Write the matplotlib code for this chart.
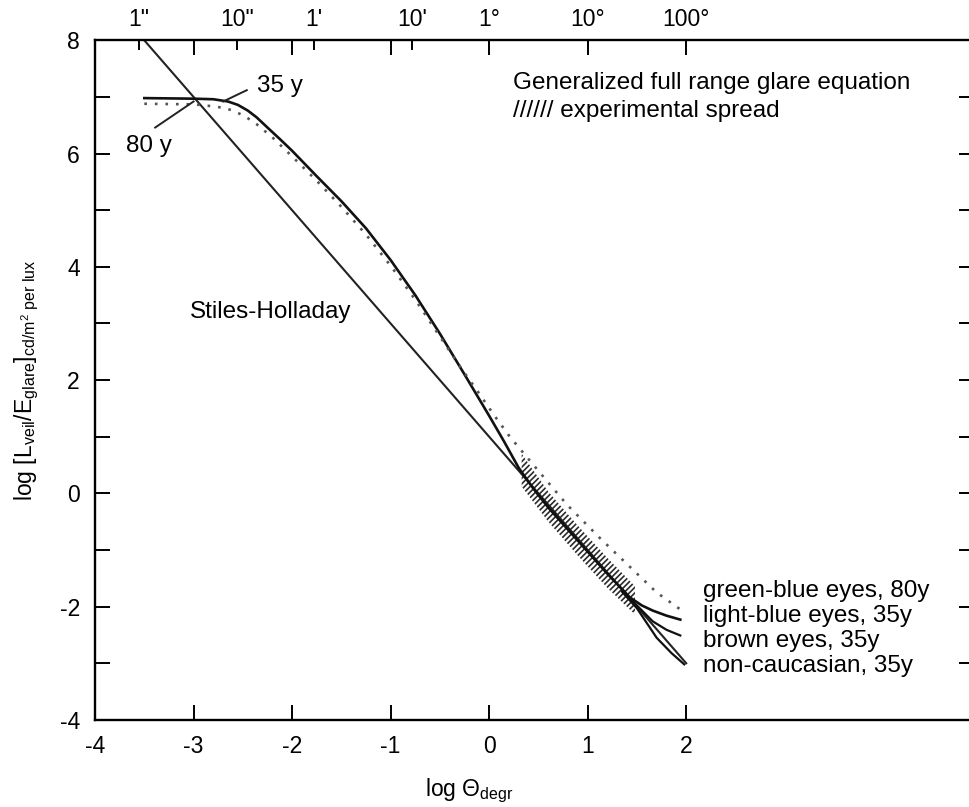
import matplotlib
matplotlib.use("Agg")
import matplotlib.pyplot as plt
import numpy as np

plt.rcParams['font.family'] = ['Liberation Sans', 'DejaVu Sans']
plt.rcParams['mathtext.fontset'] = 'custom'
plt.rcParams['mathtext.rm'] = 'Liberation Sans'
plt.rcParams['mathtext.it'] = 'Liberation Sans:italic'
plt.rcParams['axes.unicode_minus'] = False
plt.rcParams['hatch.linewidth'] = 1.2

# Stiles-Holladay straight line
sh_x = [-3.5, 2.0]
sh_y = [8.0, -3.0]

# 35 y curve (trunk + light-blue eyes branch)
y35_x = [-3.5, -3.0, -2.8, -2.65, -2.55, -2.45, -2.36, -2.25, -2.12, -2.0,
         -1.75, -1.5, -1.25, -1.0, -0.75, -0.5, -0.25, 0.0, 0.15, 0.3, 0.45,
         0.6, 0.8, 1.0, 1.2, 1.43, 1.55, 1.66, 1.8, 1.94]
y35_y = [6.98, 6.97, 6.96, 6.92, 6.86, 6.76, 6.64, 6.46, 6.25, 6.05,
         5.6, 5.16, 4.68, 4.12, 3.5, 2.82, 2.1, 1.37, 0.92, 0.45, 0.08,
         -0.25, -0.64, -1.03, -1.42, -1.84, -1.98, -2.07, -2.16, -2.23]

# brown eyes / non-caucasian branches (35 y)
brown_x = [1.35, 1.5, 1.66, 1.8, 1.94]
brown_y = [-1.72, -1.98, -2.26, -2.41, -2.51]
nonc_x = [1.35, 1.5, 1.7, 1.85, 1.98]
nonc_y = [-1.74, -2.03, -2.55, -2.82, -3.02]

# 80 y, green-blue eyes (dotted)
y80_x = [-3.5, -3.0, -2.83, -2.7, -2.6, -2.48, -2.36, -2.19, -2.0, -1.75, -1.5,
         -1.25, -1.0, -0.75, -0.5, -0.3, -0.1, 0.05, 0.21, 0.45, 0.79, 1.13,
         1.46, 1.7, 1.94]
y80_y = [6.88, 6.87, 6.84, 6.81, 6.76, 6.66, 6.52, 6.27, 5.95, 5.52, 5.06,
         4.57, 4.02, 3.42, 2.77, 2.25, 1.76, 1.38, 1.0, 0.5, -0.2, -0.8,
         -1.35, -1.75, -2.05]

# experimental spread band
band_x = [0.33, 0.6, 0.9, 1.2, 1.48]
band_lo = [0.12, -0.5, -1.1, -1.67, -2.14]
band_hi = [0.7, 0.03, -0.57, -1.14, -1.64]

top_pos = [np.log10(1/3600), np.log10(10/3600), np.log10(1/60), np.log10(10/60), 0, 1, 2]
top_lab = ['1"', '10"', "1'", "10'", '1°', '10°', '100°']

right_labels = ['green-blue eyes, 80y', 'light-blue eyes, 35y',
                'brown eyes, 35y', 'non-caucasian, 35y']

fs = 17.5
tfs = 16.5
fig = plt.figure(figsize=(9.7, 8.07), dpi=100)
ax = fig.add_axes([0.098, 0.108, 0.906, 0.842])
ax.set_xlim(-4, 4.92)
ax.set_ylim(-4, 8)

ax.fill_between(band_x, band_lo, band_hi, facecolor='none', edgecolor='#2a2a2a',
                hatch='//////', linewidth=0)
ax.plot(sh_x, sh_y, color='#222222', lw=1.5)
ax.plot(y35_x, y35_y, color='#111111', lw=1.9)
ax.plot(brown_x, brown_y, color='#111111', lw=1.6)
ax.plot(nonc_x, nonc_y, color='#111111', lw=1.6)
ax.plot(y80_x, y80_y, color='#555555', lw=1.9, linestyle=(0, (1, 3)))

# annotations
ax.plot([-2.70, -2.46], [6.92, 7.12], color='#222222', lw=1.4)
ax.text(-2.36, 7.19, '35 y', fontsize=fs, va='center', ha='left')
ax.plot([-3.0, -3.39], [6.92, 6.46], color='#222222', lw=1.4)
ax.text(-3.45, 6.14, '80 y', fontsize=fs, va='center', ha='center')
ax.text(-3.04, 3.2, 'Stiles-Holladay', fontsize=fs, va='center', ha='left')
ax.text(0.24, 7.24, 'Generalized full range glare equation', fontsize=fs,
        va='center', ha='left')
ax.text(0.24, 6.76, '////// experimental spread', fontsize=fs, va='center', ha='left')
for i, lab in enumerate(right_labels):
    ax.text(2.17, -1.73 - 0.44 * i, lab, fontsize=fs, va='center', ha='left')

# axes styling
ax.spines['right'].set_visible(False)
for s in ['left', 'bottom', 'top']:
    ax.spines[s].set_linewidth(1.7)

ax.set_xticks(range(-4, 3))
ax.set_yticks(range(-4, 9), [str(v) if v % 2 == 0 else '' for v in range(-4, 9)])
ax.tick_params(axis='both', direction='in', length=11, width=1.4, labelsize=tfs,
               top=True, right=True, pad=11)
ax.tick_params(axis='x', top=True, labeltop=False)

sec = ax.secondary_xaxis('top')
sec.set_xticks(top_pos, top_lab)
sec.tick_params(direction='in', length=7, width=1.4, labelsize=tfs, pad=7)
sec.spines['top'].set_visible(False)

ax.set_xlabel(r'log $\Theta_{\rm degr}$', fontsize=tfs)
ax.xaxis.set_label_coords(0.426, -0.083)
ax.set_ylabel(r'log [L$_{\rm veil}$/E$_{\rm glare}$]$_{\rm cd/m^2\ per\ lux}$', fontsize=tfs)
ax.yaxis.set_label_coords(-0.062, 0.5)

fig.savefig('out.png', dpi=100)
